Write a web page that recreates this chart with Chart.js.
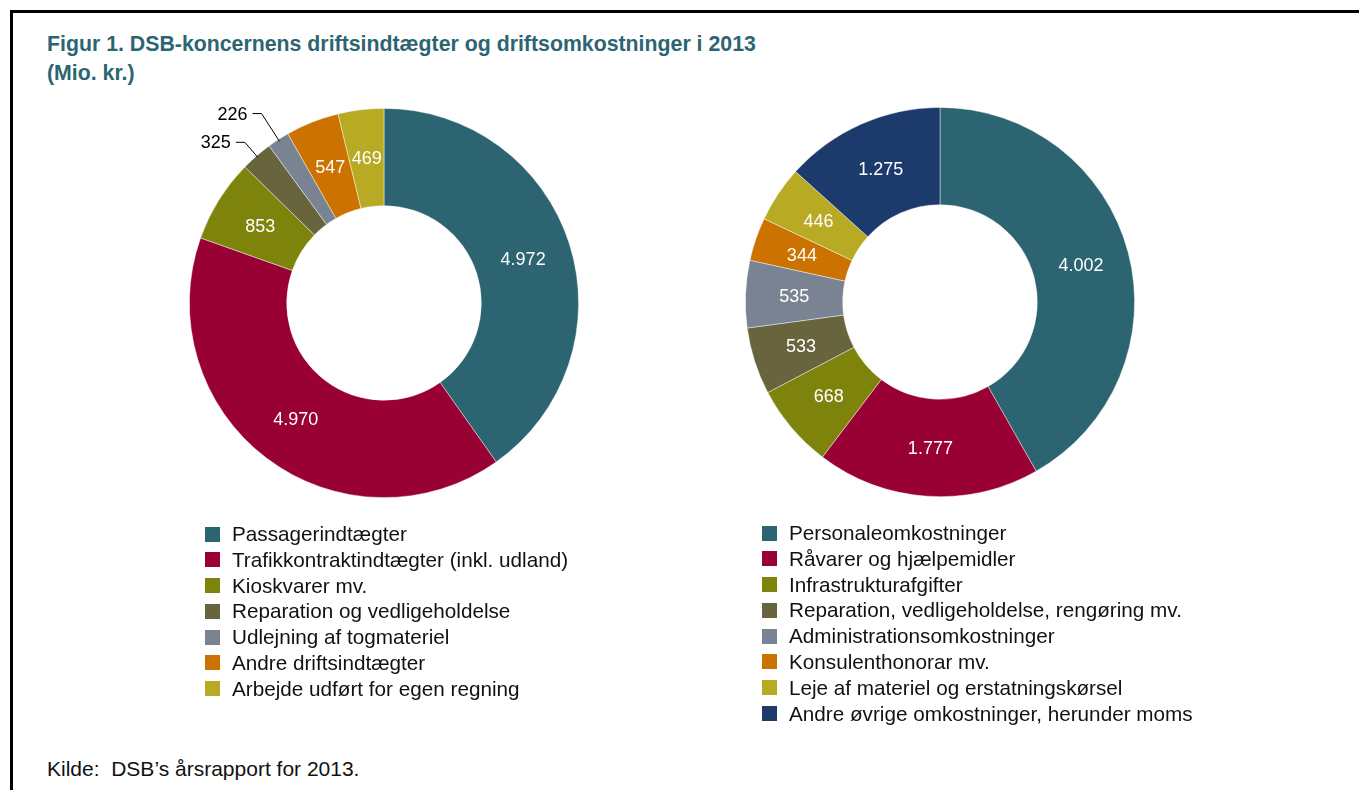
<!DOCTYPE html>
<html lang="da">
<head>
<meta charset="utf-8">
<script src="https://cdn.jsdelivr.net/npm/chart.js@4.4.1/dist/chart.umd.min.js"></script>
<style>
  html, body { margin: 0; padding: 0; background: #fff; }
  body { width: 1359px; height: 790px; position: relative; overflow: hidden;
         font-family: "Liberation Sans", Arial, sans-serif; color: #111; }
  .ramme { position: absolute; left: 10px; top: 10px; right: 0; bottom: 0;
           border-top: 3px solid #000; border-left: 3px solid #000; }
  .titel { position: absolute; left: 47px; top: 30px; font-size: 21.3px; line-height: 29px;
           font-weight: bold; color: #2c6571; white-space: nowrap; }
  canvas { position: absolute; }
  .legende { position: absolute; font-size: 20.7px; }
  .legende div { height: 25.8px; line-height: 25.8px; white-space: nowrap; position: relative; padding-left: 27px; }
  .legende span { position: absolute; left: 0; top: 5.5px; width: 15px; height: 15px; }
  .kilde { position: absolute; left: 47px; top: 758px; font-size: 21px; line-height: 21px; white-space: pre; }
</style>
</head>
<body>
<div class="ramme"></div>
<div class="titel">Figur 1. DSB-koncernens driftsindtægter og driftsomkostninger i 2013<br>(Mio. kr.)</div>

<canvas id="indtaegter" width="500" height="500" style="left:134px; top:53px;"></canvas>
<canvas id="omkostninger" width="500" height="500" style="left:690px; top:52px;"></canvas>

<div class="legende" id="legende-venstre" style="left:205px; top:521px;"></div>
<div class="legende" id="legende-hoejre" style="left:762px; top:520px;"></div>

<div class="kilde">Kilde:  DSB’s årsrapport for 2013.</div>

<script>
// Driftsindtægter (venstre)
const indtaegtKategorier = [
  "Passagerindtægter",
  "Trafikkontraktindtægter (inkl. udland)",
  "Kioskvarer mv.",
  "Reparation og vedligeholdelse",
  "Udlejning af togmateriel",
  "Andre driftsindtægter",
  "Arbejde udført for egen regning",
];
const indtaegtVaerdier = [4972, 4970, 853, 325, 226, 547, 469];

// Driftsomkostninger (højre)
const omkostKategorier = [
  "Personaleomkostninger",
  "Råvarer og hjælpemidler",
  "Infrastrukturafgifter",
  "Reparation, vedligeholdelse, rengøring mv.",
  "Administrationsomkostninger",
  "Konsulenthonorar mv.",
  "Leje af materiel og erstatningskørsel",
  "Andre øvrige omkostninger, herunder moms",
];
const omkostVaerdier = [4002, 1777, 668, 533, 535, 344, 446, 1275];

const farver = ["#2c6571", "#990033", "#7e830c", "#68643e", "#7a8392", "#cc7200", "#b8aa22", "#1d3a6d"];

// Tal med punktum som tusindtalsseparator
function fmt(v) {
  return String(v).replace(/\B(?=(\d{3})+(?!\d))/g, ".");
}

// Dataetiketter: hvid tekst i midten, små skiver får en streg ud til teksten
const etiketPlugin = {
  id: "etiketter",
  afterDatasetsDraw(chart, args, opts) {
    const ctx = chart.ctx;
    const meta = chart.getDatasetMeta(0);
    const data = chart.data.datasets[0].data;
    const udenfor = opts.udenfor || {};
    ctx.save();
    ctx.font = '18px "Liberation Sans", Arial, sans-serif';
    ctx.textBaseline = "middle";
    meta.data.forEach((arc, i) => {
      const tekst = fmt(data[i]);
      if (udenfor[i]) {
        const p = arc.getProps(["x", "y", "startAngle", "endAngle", "outerRadius"], true);
        const mid = (p.startAngle + p.endAngle) / 2;
        const r0 = p.outerRadius - 2;
        const r1 = p.outerRadius + udenfor[i];
        const x0 = p.x + Math.cos(mid) * r0, y0 = p.y + Math.sin(mid) * r0;
        const x1 = p.x + Math.cos(mid) * r1, y1 = p.y + Math.sin(mid) * r1;
        const x2 = x1 - 9;
        ctx.strokeStyle = "#000";
        ctx.lineWidth = 1;
        ctx.beginPath();
        ctx.moveTo(x0, y0);
        ctx.lineTo(x1, y1);
        ctx.lineTo(x2, y1);
        ctx.stroke();
        ctx.fillStyle = "#000";
        ctx.textAlign = "right";
        ctx.fillText(tekst, x2 - 5, y1 + 1);
      } else {
        const c = arc.getCenterPoint(true);
        ctx.fillStyle = "#fff";
        ctx.textAlign = "center";
        ctx.fillText(tekst, c.x, c.y + 1);
      }
    });
    ctx.restore();
  },
};

function lavDonut(id, kategorier, vaerdier, udenfor) {
  return new Chart(document.getElementById(id).getContext("2d"), {
    type: "doughnut",
    data: {
      labels: kategorier,
      datasets: [
        {
          data: vaerdier,
          backgroundColor: farver.slice(0, vaerdier.length),
          borderColor: "rgba(255,255,255,0.55)",
          borderWidth: 0.8,
        },
      ],
    },
    options: {
      responsive: false,
      animation: false,
      cutout: "50%",
      layout: { padding: 55 },
      plugins: {
        legend: { display: false },
        tooltip: { enabled: false },
        etiketter: { udenfor: udenfor },
      },
    },
    plugins: [etiketPlugin],
  });
}

lavDonut("indtaegter", indtaegtKategorier, indtaegtVaerdier, { 3: 18, 4: 31 });
lavDonut("omkostninger", omkostKategorier, omkostVaerdier, {});

// Legender bygget ud fra kategorierne
function lavLegende(id, kategorier) {
  const el = document.getElementById(id);
  kategorier.forEach((navn, i) => {
    const row = document.createElement("div");
    const sq = document.createElement("span");
    sq.style.background = farver[i];
    row.appendChild(sq);
    row.appendChild(document.createTextNode(navn));
    el.appendChild(row);
  });
}
lavLegende("legende-venstre", indtaegtKategorier);
lavLegende("legende-hoejre", omkostKategorier);
</script>
</body>
</html>
